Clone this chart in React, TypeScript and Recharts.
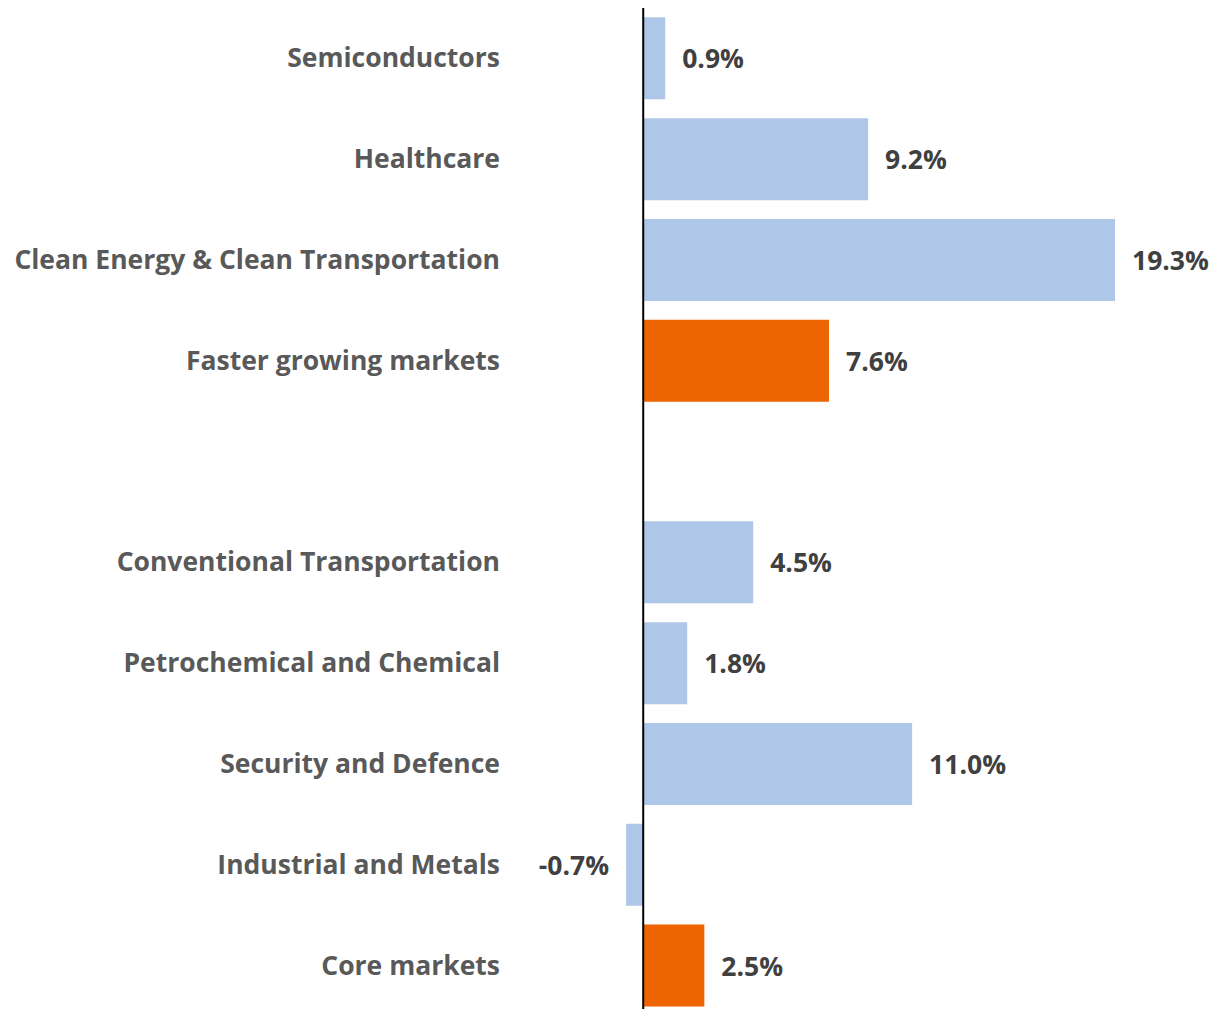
import { Bar, BarChart, Cell, LabelList, ReferenceLine, XAxis, YAxis } from "recharts";

const categories = [
  "Semiconductors",
  "Healthcare",
  "Clean Energy & Clean Transportation",
  "Faster growing markets",
  " ",
  "Conventional Transportation",
  "Petrochemical and Chemical",
  "Security and Defence",
  "Industrial and Metals",
  "Core markets",
];
const growth: (number | null)[] = [0.9, 9.2, 19.3, 7.6, null, 4.5, 1.8, 11.0, -0.7, 2.5];
const highlighted = ["Faster growing markets", "Core markets"];

const BLUE = "#aec6e8";
const ORANGE = "#ee6400";
const FONT = "'Open Sans', sans-serif";

const data = categories.map((name, i) => ({ name, value: growth[i] }));

function CategoryTick({ y, payload }: { y?: number; payload?: { value: string } }) {
  return (
    <text
      x={500}
      y={y}
      dy={9}
      textAnchor="end"
      fill="#595959"
      fontFamily={FONT}
      fontWeight={700}
      fontSize={26.5}
    >
      {payload?.value}
    </text>
  );
}

function ValueLabel(props: any) {
  const { x, y, width, height, value } = props;
  if (value == null) return null;
  const neg = value < 0;
  const left = Math.min(x, x + width);
  const right = Math.max(x, x + width);
  return (
    <text
      x={neg ? left - 17 : right + 17}
      y={y + height / 2}
      dy={10}
      textAnchor={neg ? "end" : "start"}
      fill="#404040"
      fontFamily={FONT}
      fontWeight={700}
      fontSize={26.5}
    >
      {value.toFixed(1)}%
    </text>
  );
}

export default function App() {
  return (
    <div style={{ position: "absolute", top: 0, left: 0, width: 1216, height: 1009, overflow: "hidden", background: "#fff" }}>
      <BarChart
        width={1216}
        height={1016}
        data={data}
        layout="vertical"
        margin={{ top: 8, right: 35, left: 0, bottom: 0 }}
        barCategoryGap="9.3%"
      >
        <XAxis type="number" domain={[-5, 22]} hide />
        <YAxis
          type="category"
          dataKey="name"
          width={521}
          axisLine={false}
          tickLine={false}
          tick={<CategoryTick />}
          interval={0}
        />
        <Bar dataKey="value" isAnimationActive={false}>
          {data.map((d) => (
            <Cell key={d.name} fill={highlighted.includes(d.name) ? ORANGE : BLUE} />
          ))}
          <LabelList dataKey="value" content={<ValueLabel />} />
        </Bar>
        <ReferenceLine x={0} stroke="#000" strokeWidth={2} />
      </BarChart>
    </div>
  );
}
